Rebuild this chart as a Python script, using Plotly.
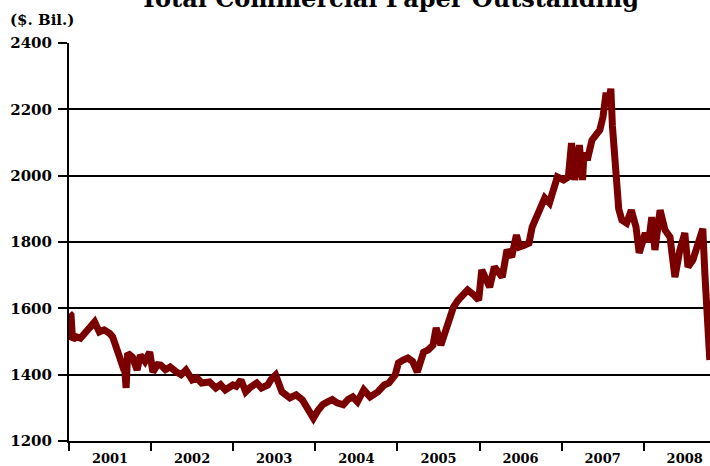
import plotly.graph_objects as go

# Weekly-ish observations of total commercial paper outstanding ($ billions)
dates = [
    "2001-01-03", "2001-01-10", "2001-01-17", "2001-01-31", "2001-02-21", "2001-03-14",
    "2001-04-04", "2001-04-25", "2001-05-16", "2001-06-06", "2001-06-30", "2001-07-14",
    "2001-08-08", "2001-08-29", "2001-09-05", "2001-09-12", "2001-09-19", "2001-10-10",
    "2001-10-31", "2001-11-14", "2001-12-05", "2001-12-26",
    "2002-01-09", "2002-01-30", "2002-02-13", "2002-03-06", "2002-03-27", "2002-04-24",
    "2002-05-15", "2002-06-05", "2002-07-03", "2002-07-24", "2002-08-14", "2002-09-18",
    "2002-10-16", "2002-11-06", "2002-11-27", "2002-12-31",
    "2003-01-15", "2003-02-05", "2003-02-26", "2003-03-19", "2003-04-16", "2003-05-07",
    "2003-06-04", "2003-06-18", "2003-07-09", "2003-08-06", "2003-09-10", "2003-10-08",
    "2003-11-05", "2003-11-26", "2003-12-24",
    "2004-01-14", "2004-02-04", "2004-02-25", "2004-03-17", "2004-04-07", "2004-05-05",
    "2004-05-26", "2004-06-16", "2004-07-07", "2004-08-04", "2004-09-01", "2004-10-06",
    "2004-11-03", "2004-11-24", "2004-12-22",
    "2005-01-05", "2005-01-26", "2005-02-16", "2005-03-09", "2005-03-30", "2005-04-27",
    "2005-05-18", "2005-06-08", "2005-06-22", "2005-07-13", "2005-08-03", "2005-09-07",
    "2005-09-28", "2005-10-19", "2005-11-09", "2005-12-07", "2005-12-28",
    "2006-01-11", "2006-02-01", "2006-02-15", "2006-03-08", "2006-03-29", "2006-04-12",
    "2006-05-03", "2006-05-24", "2006-06-14", "2006-06-28", "2006-07-19", "2006-08-09",
    "2006-08-23", "2006-09-27", "2006-10-18", "2006-11-08", "2006-11-29", "2006-12-13",
    "2007-01-10", "2007-01-31", "2007-02-14", "2007-02-28", "2007-03-21", "2007-04-04",
    "2007-04-11", "2007-04-25", "2007-05-16", "2007-06-20", "2007-07-04", "2007-07-18",
    "2007-07-25", "2007-08-08", "2007-08-15", "2007-08-29", "2007-09-12", "2007-09-26",
    "2007-10-17", "2007-11-07", "2007-11-28", "2007-12-12",
    "2008-01-08", "2008-01-23", "2008-02-06", "2008-02-20", "2008-03-14", "2008-04-05",
    "2008-04-27", "2008-05-19", "2008-06-10", "2008-07-02", "2008-07-16", "2008-08-07",
    "2008-08-29", "2008-09-20", "2008-09-29", "2008-10-08", "2008-10-21",
]
outstanding = [
    1585, 1580, 1505, 1515, 1510, 1525,
    1544, 1559, 1529, 1535, 1525, 1514,
    1465, 1423, 1425, 1360, 1465, 1453,
    1414, 1459, 1440, 1468,
    1408, 1430, 1429, 1415, 1423, 1408,
    1400, 1414, 1384, 1390, 1375, 1378,
    1360, 1370, 1354, 1369,
    1365, 1384, 1348, 1362, 1375, 1360,
    1369, 1385, 1399, 1348, 1330, 1339,
    1324, 1300, 1269,
    1293, 1310, 1318, 1325, 1315, 1309,
    1325, 1333, 1318, 1354, 1333, 1348,
    1369, 1375, 1399,
    1435, 1444, 1450, 1440, 1408, 1468,
    1475, 1489, 1541, 1489, 1535, 1604,
    1625, 1640, 1655, 1640, 1625,
    1716, 1679, 1664, 1725, 1700, 1694,
    1776, 1755, 1821, 1785, 1790, 1797,
    1845, 1906, 1933, 1918, 1957, 1996,
    1987, 1996, 2098, 1987, 2092, 1987,
    2071, 2047, 2107, 2138, 2177, 2250,
    2210, 2262, 2150, 2000, 1900, 1866,
    1857, 1896, 1845, 1767,
    1827, 1800, 1875, 1776, 1896, 1836,
    1815, 1694, 1776, 1827, 1725, 1746,
    1797, 1840, 1706, 1586, 1444,
]

y_ticks = [1200, 1400, 1600, 1800, 2000, 2200, 2400]

FONT = "DejaVu Serif"

fig = go.Figure()
fig.add_trace(go.Scatter(
    x=dates,
    y=outstanding,
    mode="lines",
    line=dict(color="#7a0000", width=7),
    showlegend=False,
    hoverinfo="skip",
))

fig.update_layout(
    width=710,
    height=466,
    margin=dict(l=69, r=0, t=43, b=25),
    paper_bgcolor="white",
    plot_bgcolor="white",
    font=dict(family=FONT, color="black"),
    xaxis=dict(
        type="date",
        range=["2001-01-01", "2008-10-22"],
        tick0="2001-01-01",
        dtick="M12",
        tickformat="%Y",
        ticklabelmode="period",
        ticks="outside",
        ticklen=8,
        tickwidth=2,
        tickcolor="black",
        showgrid=False,
        showline=True,
        linecolor="black",
        linewidth=2,
        automargin=False,
        ticklabelstandoff=-4,
        tickfont=dict(family=FONT, size=13, color="black", weight="bold"),
        zeroline=False,
    ),
    yaxis=dict(
        range=[1200, 2400],
        tickvals=y_ticks,
        ticks="outside",
        ticklen=9,
        tickwidth=2,
        tickcolor="black",
        showgrid=True,
        gridcolor="black",
        gridwidth=2,
        showline=True,
        linecolor="black",
        linewidth=2,
        automargin=False,
        ticklabelstandoff=3,
        tickfont=dict(family=FONT, size=15, color="black", weight="bold"),
        zeroline=False,
    ),
    annotations=[
        dict(
            text="Total Commercial Paper Outstanding",
            xref="paper", yref="paper",
            x=0.5, y=1.07, xanchor="center", yanchor="bottom",
            showarrow=False,
            font=dict(family=FONT, size=24, color="black", weight="bold"),
        ),
        dict(
            text="($. Bil.)",
            xref="paper", yref="paper",
            x=-0.095, y=1.03, xanchor="left", yanchor="bottom",
            showarrow=False,
            font=dict(family=FONT, size=15, color="black", weight="bold"),
        ),
    ],
)

fig.write_html("out.html")
